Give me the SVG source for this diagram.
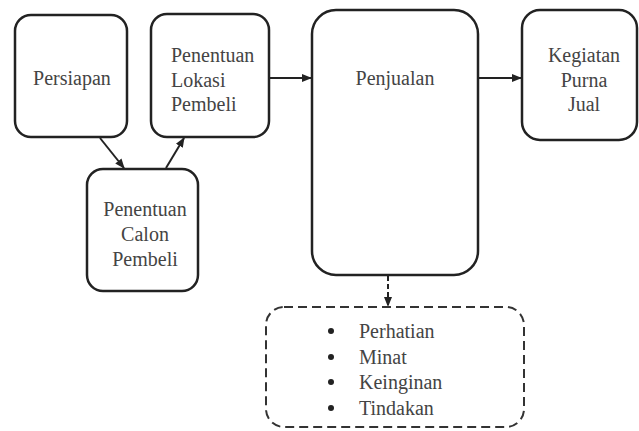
<svg xmlns="http://www.w3.org/2000/svg" width="639" height="431" viewBox="0 0 639 431">
<style>
.box{fill:#fff;stroke:#222;stroke-width:2.5}
.dash{fill:#fff;stroke:#333;stroke-width:2;stroke-dasharray:9,5}
text{font-family:'Liberation Serif','Times New Roman',serif;font-size:20px;fill:#444}
.c{text-anchor:middle}
.ln{stroke:#222;stroke-width:2;fill:none}
.dot{fill:#222}
</style>
<defs>
<marker id="a" viewBox="0 0 10 10" refX="9" refY="5" markerWidth="10" markerHeight="10" orient="auto" markerUnits="userSpaceOnUse">
<path d="M0,1 L10,5 L0,9 z" fill="#222"/>
</marker>
</defs>
<rect width="639" height="431" fill="#fff"/>
<g id="connectors">
<line class="ln" x1="100" y1="138" x2="124" y2="168" marker-end="url(#a)"/>
<line class="ln" x1="166" y1="168" x2="184" y2="138" marker-end="url(#a)"/>
<line class="ln" x1="270" y1="78" x2="311" y2="78" marker-end="url(#a)"/>
<line class="ln" x1="479" y1="78" x2="521" y2="78" marker-end="url(#a)"/>
<line class="ln" x1="388" y1="276" x2="388" y2="306" stroke-dasharray="5,3" marker-end="url(#a)"/>
</g>
<g id="persiapan">
<rect class="box" x="15" y="15" width="112" height="122" rx="16"/>
<text class="c" x="72" y="85">Persiapan</text>
</g>
<g id="lokasi">
<rect class="box" x="151" y="14" width="118" height="123" rx="16"/>
<text x="171" y="62">Penentuan</text>
<text x="171" y="87">Lokasi</text>
<text x="171" y="111">Pembeli</text>
</g>
<g id="calon">
<rect class="box" x="87" y="169" width="111" height="122" rx="16"/>
<text class="c" x="145" y="216">Penentuan</text>
<text class="c" x="145" y="241">Calon</text>
<text class="c" x="145" y="266">Pembeli</text>
</g>
<g id="penjualan">
<rect class="box" x="312" y="10" width="166" height="265" rx="24"/>
<text class="c" x="395" y="85">Penjualan</text>
</g>
<g id="kegiatan">
<rect class="box" x="522" y="10" width="115" height="130" rx="18"/>
<text class="c" x="584" y="62">Kegiatan</text>
<text class="c" x="584" y="87">Purna</text>
<text class="c" x="584" y="111">Jual</text>
</g>
<g id="aida">
<rect class="dash" x="266" y="307" width="258" height="120" rx="18"/>
<circle class="dot" cx="331" cy="331" r="3"/>
<circle class="dot" cx="331" cy="357" r="3"/>
<circle class="dot" cx="331" cy="382" r="3"/>
<circle class="dot" cx="331" cy="408" r="3"/>
<text x="359" y="338">Perhatian</text>
<text x="359" y="364">Minat</text>
<text x="359" y="389">Keinginan</text>
<text x="359" y="415">Tindakan</text>
</g>
</svg>
